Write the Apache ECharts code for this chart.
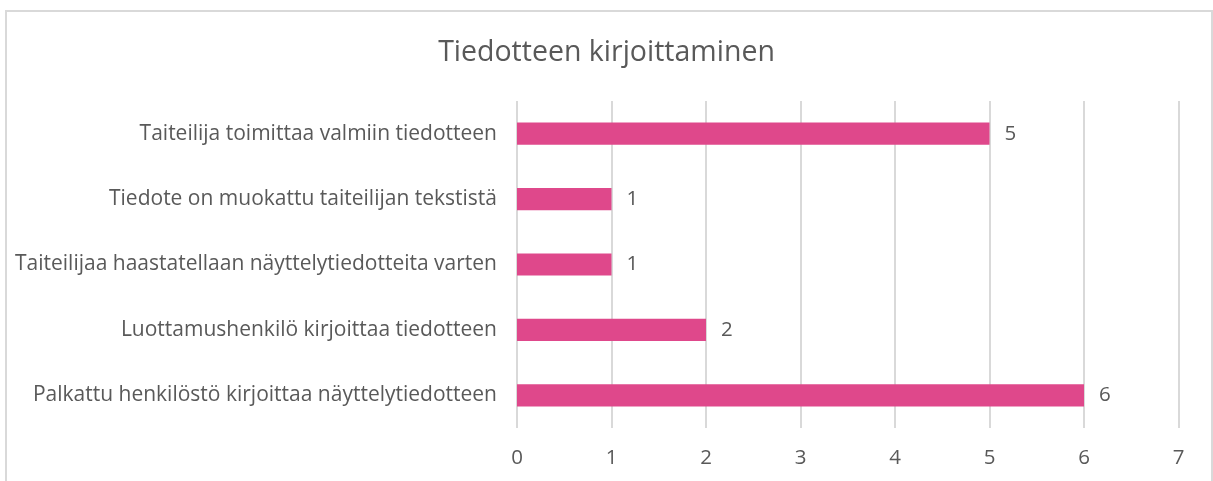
<!DOCTYPE html>
<html>
<head>
<meta charset="utf-8">
<script src="https://cdn.jsdelivr.net/npm/echarts@6/dist/echarts.min.js"></script>
<style>
  html, body { margin: 0; padding: 0; background: #fff; }
  #chart { width: 1213px; height: 481px; }
</style>
</head>
<body>
<div id="chart"></div>
<script>
  // data, bottom-to-top order on the category axis
  var categories = [
    'Palkattu henkilöstö kirjoittaa näyttelytiedotteen',
    'Luottamushenkilö kirjoittaa tiedotteen',
    'Taiteilijaa haastatellaan näyttelytiedotteita varten',
    'Tiedote on muokattu taiteilijan tekstistä',
    'Taiteilija toimittaa valmiin tiedotteen'
  ];
  var values = [6, 2, 1, 1, 5];
  var axisTicks = [0, 1, 2, 3, 4, 5, 6, 7];

  var textColor = '#595959';
  var fontName = '"Open Sans", Lato, sans-serif';

  var chart = echarts.init(document.getElementById('chart'));
  chart.setOption({
    animation: false,
    graphic: [{
      type: 'rect',
      silent: true,
      shape: { x: 6, y: 11, width: 1206, height: 480 },
      style: { fill: 'none', stroke: '#d9d9d9', lineWidth: 2 }
    }],
    title: {
      text: 'Tiedotteen kirjoittaminen',
      left: 'center',
      top: 33,
      textStyle: { color: textColor, fontSize: 28.5, fontWeight: 'normal', fontFamily: fontName }
    },
    grid: { left: 517, right: 34.5, top: 101, bottom: 53, containLabel: false },
    xAxis: {
      type: 'value',
      min: axisTicks[0],
      max: axisTicks[axisTicks.length - 1],
      interval: 1,
      axisLine: { show: false },
      axisTick: { show: false },
      axisLabel: { color: textColor, fontSize: 20.5, fontFamily: fontName, margin: 20 },
      splitLine: { lineStyle: { color: '#d9d9d9', width: 2 } }
    },
    yAxis: {
      type: 'category',
      data: categories,
      axisLine: { show: false },
      axisTick: { show: false },
      axisLabel: { color: textColor, fontSize: 21, fontFamily: fontName, margin: 20 }
    },
    series: [{
      type: 'bar',
      data: values,
      barWidth: '34%',
      itemStyle: { color: '#df488b' },
      label: {
        show: true,
        position: 'right',
        distance: 15,
        color: textColor,
        fontSize: 20.5,
        fontFamily: fontName
      }
    }]
  });
</script>
</body>
</html>
